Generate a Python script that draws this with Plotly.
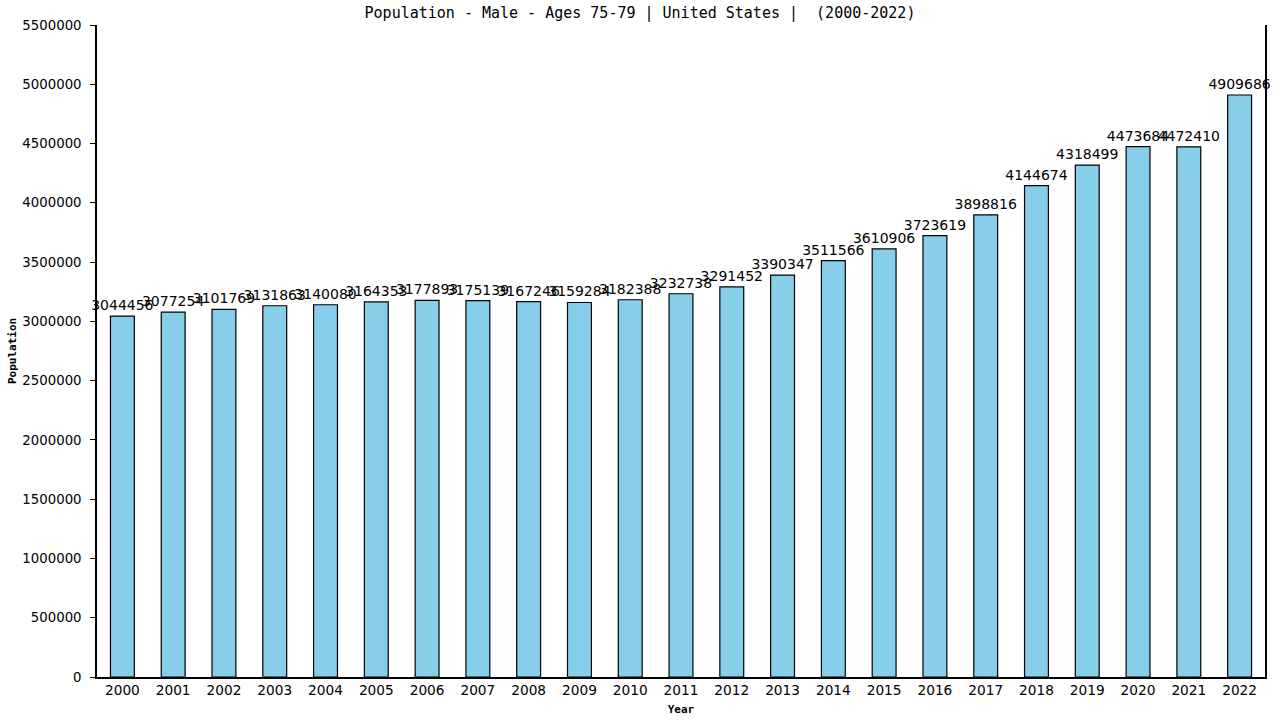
import plotly.graph_objects as go

years = [str(y) for y in range(2000, 2023)]
population = [
    3044456, 3077254, 3101769, 3131863, 3140080, 3164353, 3177893, 3175139,
    3167246, 3159284, 3182388, 3232738, 3291452, 3390347, 3511566, 3610906,
    3723619, 3898816, 4144674, 4318499, 4473684, 4472410, 4909686,
]
y_ticks = list(range(0, 5500001, 500000))

FONT = "DejaVu Sans"
MONO = "DejaVu Sans Mono"

fig = go.Figure(
    go.Bar(
        x=years,
        y=population,
        text=[str(v) for v in population],
        textposition="outside",
        constraintext="none",
        cliponaxis=False,
        textfont=dict(family=FONT, size=14, color="black"),
        marker=dict(color="#87CEEB", line=dict(color="black", width=1.2)),
        width=0.47,
    )
)

fig.update_layout(
    width=1280,
    height=720,
    margin=dict(l=97, r=15, t=25, b=43),
    plot_bgcolor="white",
    paper_bgcolor="white",
    font=dict(family=FONT, size=14, color="black"),
    showlegend=False,
    title=dict(
        text="Population - Male - Ages 75-79 | United States |  (2000-2022)",
        x=0.5,
        xanchor="center",
        xref="container",
        yref="container",
        y=0.982,
        yanchor="middle",
        font=dict(family=MONO, size=15, color="black"),
    ),
)

# y-axis title as an annotation so it can sit close to the page edge
fig.add_annotation(
    text="<b>Population</b>",
    xref="paper",
    yref="paper",
    x=(12 - 97) / 1168,
    y=0.5,
    xanchor="center",
    yanchor="middle",
    textangle=-90,
    showarrow=False,
    font=dict(family=MONO, size=11, color="black"),
)

fig.update_xaxes(
    title=dict(text="<b>Year</b>", font=dict(family=MONO, size=11), standoff=8),
    automargin=False,
    showline=True,
    linecolor="black",
    linewidth=1.5,
    showgrid=False,
    ticks="",
    range=[-0.5, 22.5],
    tickfont=dict(family=FONT, size=13.7),
)

fig.update_yaxes(
    automargin=False,
    range=[0, 5500000],
    tickvals=y_ticks,
    ticktext=[str(v) for v in y_ticks],
    showline=True,
    mirror=True,
    linecolor="black",
    linewidth=1.5,
    showgrid=False,
    zeroline=False,
    ticks="outside",
    ticklen=5,
    tickcolor="black",
    ticklabelstandoff=6,
    tickfont=dict(family=FONT, size=13.3),
)

# drop the default body margin so the figure sits at the page corner
fig.write_html(
    "out.html",
    config={"displayModeBar": False},
    post_script="document.body.style.margin = '0';",
)
